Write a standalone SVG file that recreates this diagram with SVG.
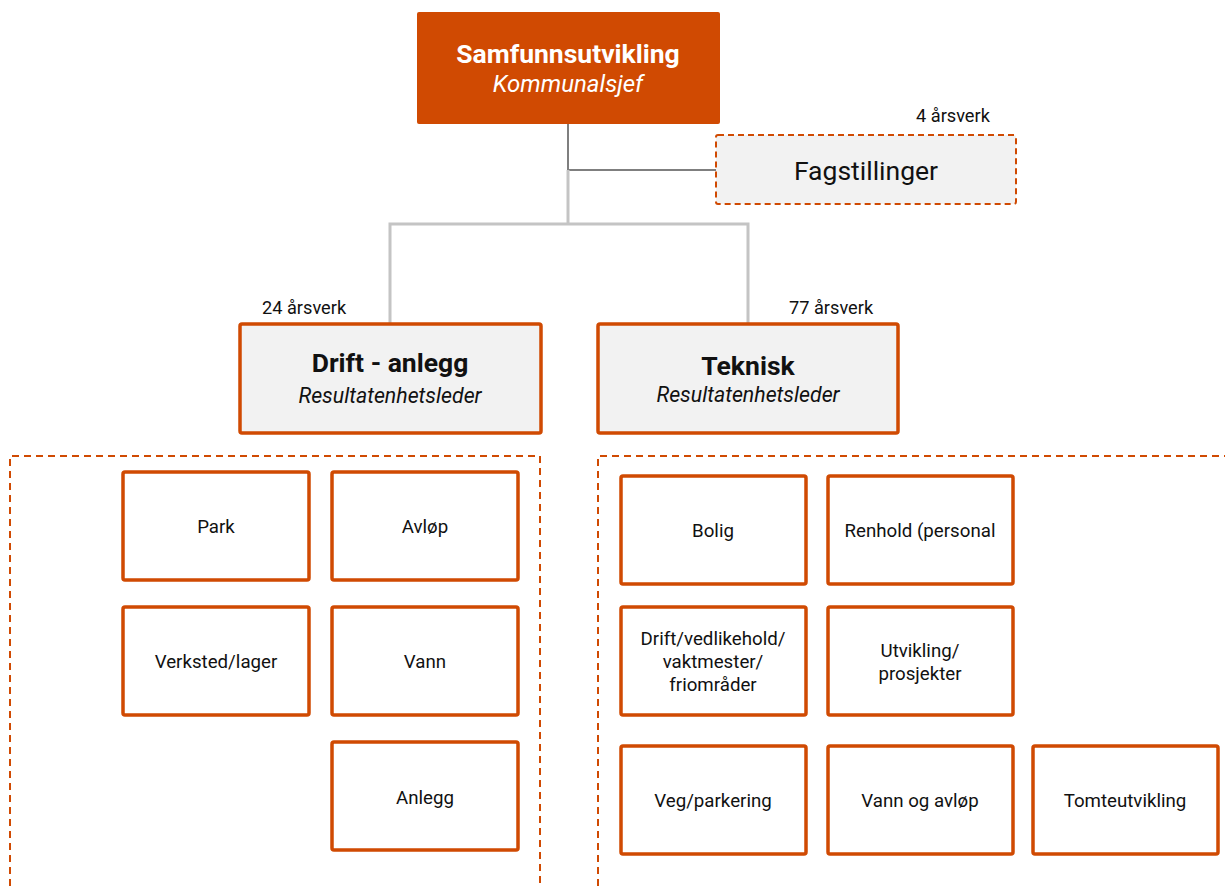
<svg xmlns="http://www.w3.org/2000/svg" width="1225" height="886" viewBox="0 0 1225 886">
  <style>
    text { font-family: Roboto, "Liberation Sans", sans-serif; fill: #111; text-anchor: middle; }
    .head rect { fill: #D04A02; }
    .head .t { fill: #fff; font-weight: bold; font-size: 26.5px; }
    .head .s { fill: #fff; font-style: italic; font-size: 24px; }
    .unit rect { fill: #f2f2f2; stroke: #D04A02; stroke-width: 3.5; }
    .unit .t { font-weight: bold; font-size: 26.5px; }
    .unit .s { font-style: italic; font-size: 21.3px; }
    .staff rect { fill: #f2f2f2; stroke: #D04A02; stroke-width: 2; stroke-dasharray: 6 4; }
    .staff .t { font-size: 26.5px; }
    .count { font-size: 18.2px; text-anchor: start; }
    .leaf rect { fill: #fff; stroke: #D04A02; stroke-width: 3.5; }
    .leaf text { font-size: 18.7px; }
    .frame { fill: none; stroke: #D04A02; stroke-width: 2; stroke-dasharray: 7 5; }
    .link-dark { fill: none; stroke: #7f7f7f; stroke-width: 2; }
    .link-light { fill: none; stroke: #c4c4c4; stroke-width: 3; }
  </style>

  <!-- connectors -->
  <g id="connectors">
    <path class="link-dark" d="M568,124 V170 H716"/>
    <path class="link-light" d="M568,170 V224"/>
    <path class="link-light" d="M390,323 V224 H748 V323"/>
  </g>

  <!-- dashed frames around each unit's sections -->
  <g id="frames">
    <path class="frame" d="M10,886 V456 H540 V886"/>
    <path class="frame" d="M598,886 V456 H1225"/>
  </g>

  <g id="samfunnsutvikling" class="head">
    <rect x="417" y="12" width="303" height="112" rx="2"/>
    <text class="t" x="568" y="63">Samfunnsutvikling</text>
    <text class="s" x="568" y="92">Kommunalsjef</text>
  </g>

  <g id="fagstillinger" class="staff">
    <text class="count" x="916" y="122">4 årsverk</text>
    <rect x="716" y="135" width="300" height="69" rx="2"/>
    <text class="t" x="866" y="180">Fagstillinger</text>
  </g>

  <g id="drift-anlegg" class="unit">
    <text class="count" x="262" y="314">24 årsverk</text>
    <rect x="240" y="324" width="301" height="109" rx="2"/>
    <text class="t" x="390" y="372">Drift - anlegg</text>
    <text class="s" x="390" y="403">Resultatenhetsleder</text>
  </g>

  <g id="teknisk" class="unit">
    <text class="count" x="789" y="314">77 årsverk</text>
    <rect x="598" y="324" width="300" height="109" rx="2"/>
    <text class="t" x="748" y="375">Teknisk</text>
    <text class="s" x="748" y="402">Resultatenhetsleder</text>
  </g>

  <!-- Drift - anlegg sections -->
  <g id="park" class="leaf">
    <rect x="123" y="472" width="186" height="108" rx="2"/>
    <text x="216" y="533">Park</text>
  </g>
  <g id="avlop" class="leaf">
    <rect x="332" y="472" width="186" height="108" rx="2"/>
    <text x="425" y="533">Avløp</text>
  </g>
  <g id="verksted-lager" class="leaf">
    <rect x="123" y="607" width="186" height="108" rx="2"/>
    <text x="216" y="668">Verksted/lager</text>
  </g>
  <g id="vann" class="leaf">
    <rect x="332" y="607" width="186" height="108" rx="2"/>
    <text x="425" y="668">Vann</text>
  </g>
  <g id="anlegg" class="leaf">
    <rect x="332" y="742" width="186" height="108" rx="2"/>
    <text x="425" y="804">Anlegg</text>
  </g>

  <!-- Teknisk sections -->
  <g id="bolig" class="leaf">
    <rect x="621" y="476" width="185" height="108" rx="2"/>
    <text x="713" y="537">Bolig</text>
  </g>
  <g id="renhold" class="leaf">
    <rect x="828" y="476" width="185" height="108" rx="2"/>
    <text x="920" y="537">Renhold (personal</text>
  </g>
  <g id="drift-vedlikehold" class="leaf">
    <rect x="621" y="607" width="185" height="108" rx="2"/>
    <text x="713" y="645">Drift/vedlikehold/</text>
    <text x="713" y="668">vaktmester/</text>
    <text x="713" y="691">friområder</text>
  </g>
  <g id="utvikling-prosjekter" class="leaf">
    <rect x="828" y="607" width="185" height="108" rx="2"/>
    <text x="920" y="657">Utvikling/</text>
    <text x="920" y="680">prosjekter</text>
  </g>
  <g id="veg-parkering" class="leaf">
    <rect x="621" y="746" width="185" height="108" rx="2"/>
    <text x="713" y="807">Veg/parkering</text>
  </g>
  <g id="vann-og-avlop" class="leaf">
    <rect x="828" y="746" width="185" height="108" rx="2"/>
    <text x="920" y="807">Vann og avløp</text>
  </g>
  <g id="tomteutvikling" class="leaf">
    <rect x="1033" y="746" width="185" height="108" rx="2"/>
    <text x="1125" y="807">Tomteutvikling</text>
  </g>
</svg>
